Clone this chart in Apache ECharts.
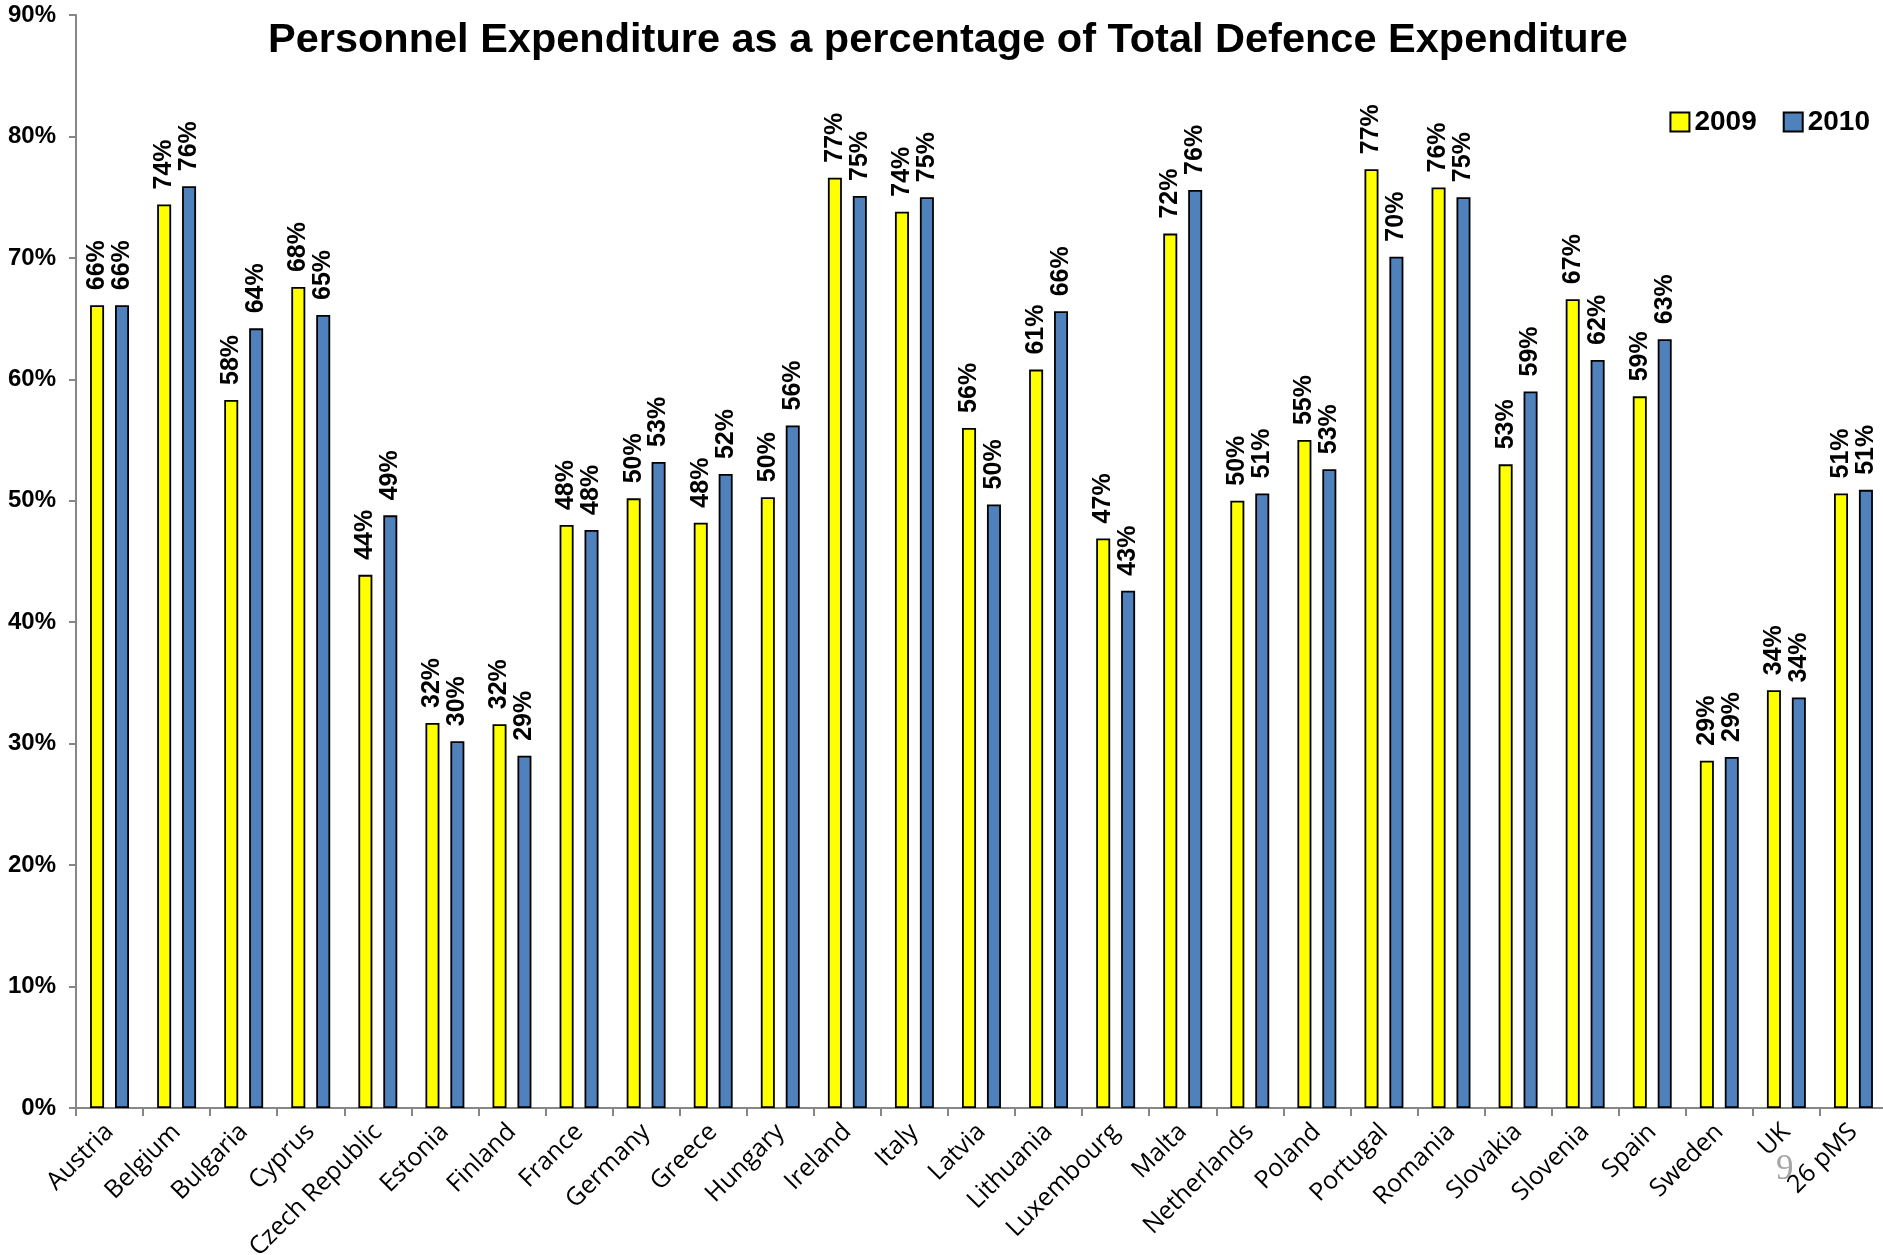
<!DOCTYPE html>
<html>
<head>
<meta charset="utf-8">
<script src="https://cdn.jsdelivr.net/npm/echarts@6/dist/echarts.min.js"></script>
<style>
html,body{margin:0;padding:0;background:#fff;}
#chart{width:1883px;height:1255px;}
</style>
</head>
<body>
<div id="chart"></div>
<script>
const categories = ["Austria","Belgium","Bulgaria","Cyprus","Czech Republic","Estonia","Finland","France","Germany","Greece","Hungary","Ireland","Italy","Latvia","Lithuania","Luxembourg","Malta","Netherlands","Poland","Portugal","Romania","Slovakia","Slovenia","Spain","Sweden","UK","26 pMS"];
const values2009 = [66.1,74.4,58.3,67.6,43.9,31.7,31.6,48.0,50.2,48.2,50.3,76.6,73.8,56.0,60.8,46.9,72.0,50.0,55.0,77.3,75.8,53.0,66.6,58.6,28.6,34.4,50.6];
const values2010 = [66.1,75.9,64.2,65.3,48.8,30.2,29.0,47.6,53.2,52.2,56.2,75.1,75.0,49.7,65.6,42.6,75.6,50.6,52.6,70.1,75.0,59.0,61.6,63.3,28.9,33.8,50.9];
const seriesNames = ["2009","2010"];
const titleText = "Personnel Expenditure as a percentage of Total Defence Expenditure";

const chart = echarts.init(document.getElementById('chart'), null, {renderer:'canvas'});
const labelCfg = {
  show: true,
  position: 'top',
  rotate: 90,
  align: 'left',
  verticalAlign: 'middle',
  distance: 15,
  color: '#000',
  fontWeight: 'bold',
  fontSize: 25,
  fontFamily: "'Liberation Sans Narrow','Liberation Sans',Arial,sans-serif",
  formatter: p => Math.round(p.value) + '%'
};
chart.setOption({
  animation: false,
  backgroundColor: '#fff',
  title: {
    text: titleText,
    left: 268,
    top: 20,
    padding: 0,
    textStyle: {fontSize: 41.5, fontWeight: 'bold', color: '#000', fontFamily: "'Liberation Sans',Arial,sans-serif"}
  },
  legend: {
    right: 8,
    top: 103,
    itemWidth: 19,
    itemHeight: 19,
    itemGap: 26,
    icon: 'rect',
    textStyle: {fontSize: 28, fontWeight: 'bold', color: '#000', fontFamily: "'Liberation Sans',Arial,sans-serif"},
    data: seriesNames
  },
  grid: {left: 76, top: 15, bottom: 147, width: 1811, containLabel: false, outerBoundsMode: 'none'},
  xAxis: {
    type: 'category',
    data: categories,
    axisLine: {lineStyle: {color: '#868686', width: 2}},
    axisTick: {show: true, length: 8, lineStyle: {color: '#868686', width: 2}},
    axisLabel: {
      rotate: 45,
      interval: 0,
      margin: 20,
      fontSize: 25,
      color: '#000',
      fontFamily: "'Open Sans',Lato,sans-serif"
    }
  },
  yAxis: {
    type: 'value',
    min: 0,
    max: 90,
    interval: 10,
    splitLine: {show: false},
    axisLine: {show: true, lineStyle: {color: '#868686', width: 2}},
    axisTick: {show: true, length: 7, lineStyle: {color: '#868686', width: 2}},
    axisLabel: {
      formatter: '{value}%',
      margin: 20,
      fontSize: 24,
      fontWeight: 'bold',
      color: '#000',
      fontFamily: "'Liberation Sans',Arial,sans-serif"
    }
  },
  series: [
    {
      name: seriesNames[0], type: 'bar', data: values2009,
      barWidth: 14, barGap: '78%',
      itemStyle: {color: '#FFFF00', borderColor: '#000', borderWidth: 1.8},
      label: labelCfg
    },
    {
      name: seriesNames[1], type: 'bar', data: values2010,
      barWidth: 14, barGap: '78%',
      itemStyle: {color: '#4F81BD', borderColor: '#000', borderWidth: 1.8},
      label: labelCfg
    }
  ],
  graphic: [{
    type: 'text',
    left: 1776,
    top: 1152,
    style: {text: '9', fontSize: 35, fill: '#A6A6A6', fontFamily: "'Liberation Serif','DejaVu Serif',serif"}
  }]
});
</script>
</body>
</html>
